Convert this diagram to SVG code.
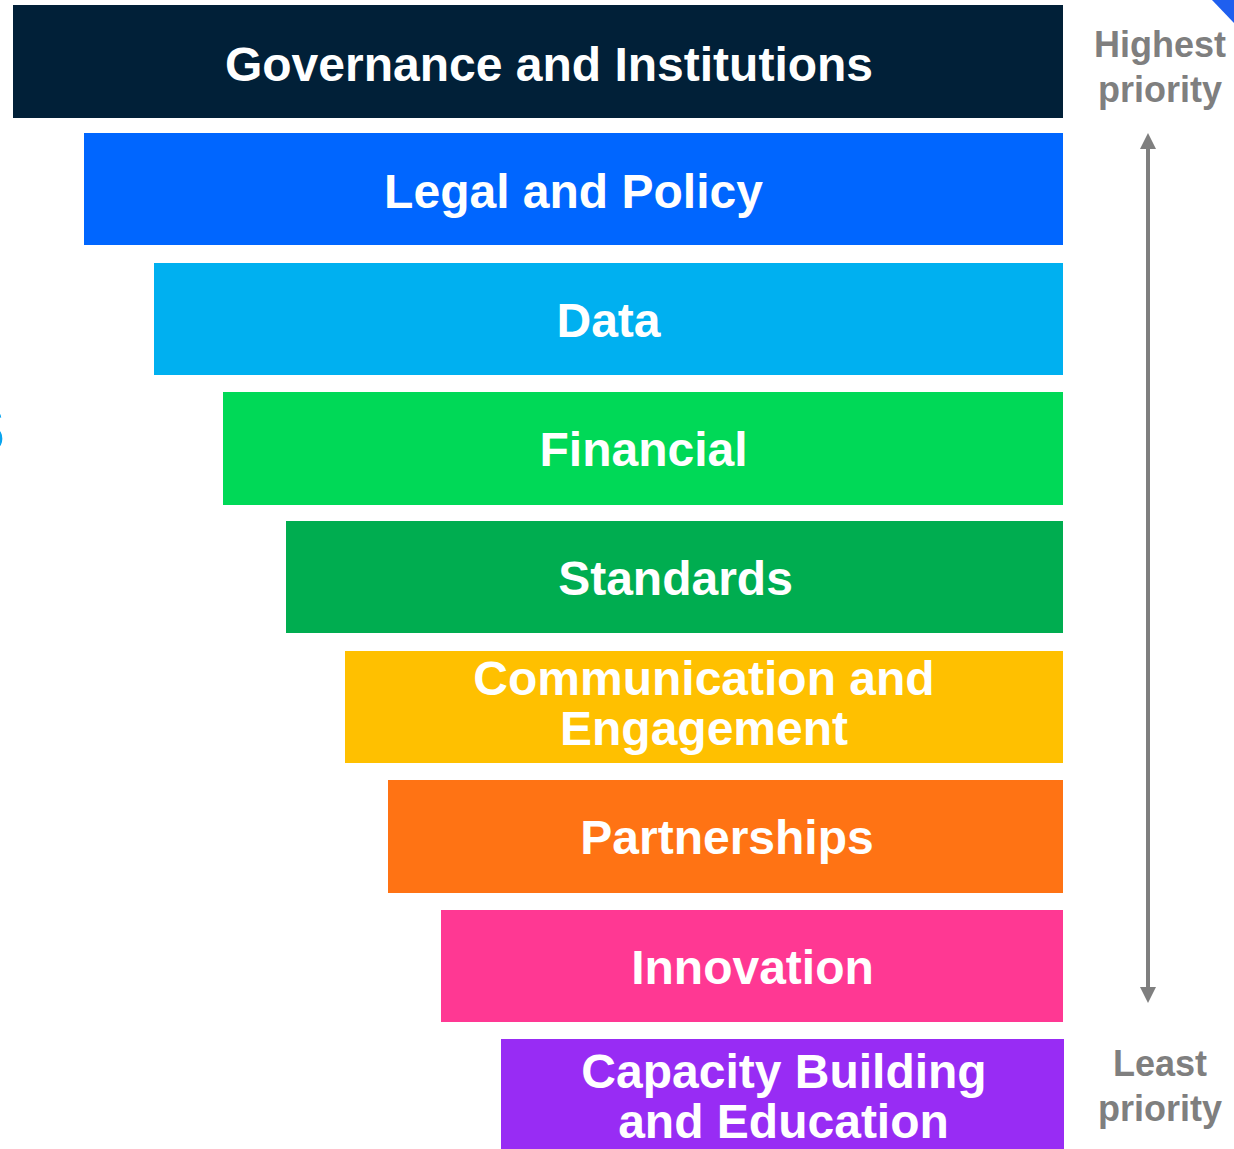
<svg xmlns="http://www.w3.org/2000/svg" width="1234" height="1149" viewBox="0 0 1234 1149">
<style>
  .lbl { font-family: "Liberation Sans", Arial, sans-serif; font-weight: bold; font-size: 48px; fill: #ffffff; text-anchor: middle; }
  .side { font-family: "Liberation Sans", Arial, sans-serif; font-weight: bold; font-size: 36px; fill: #7f7f7f; text-anchor: middle; }
  .conn { stroke: #7f7f7f; stroke-width: 4; fill: none; }
</style>
<defs>
  <marker id="head" viewBox="0 0 16 16" refX="0" refY="8" markerWidth="16" markerHeight="16" markerUnits="userSpaceOnUse" orient="auto-start-reverse">
    <path d="M0,0 L16,8 L0,16 Z" fill="#7f7f7f"/>
  </marker>
</defs>
<rect width="1234" height="1149" fill="#ffffff"/>
<polygon points="1212,0 1234,0 1234,23" fill="#1f5fef"/>
<text x="6" y="452" font-family="Liberation Sans, Arial, sans-serif" font-weight="bold" font-size="88" fill="#08a4ef" text-anchor="end">s</text>

<g id="governance">
  <rect x="13" y="5" width="1050" height="113" fill="#012038"/>
  <text class="lbl" x="549" y="81">Governance and Institutions</text>
</g>
<g id="legal">
  <rect x="84" y="133" width="979" height="112" fill="#0066ff"/>
  <text class="lbl" x="573.5" y="208">Legal and Policy</text>
</g>
<g id="data">
  <rect x="154" y="263" width="909" height="112" fill="#00b0f0"/>
  <text class="lbl" x="608.5" y="337">Data</text>
</g>
<g id="financial">
  <rect x="223" y="392" width="840" height="113" fill="#00d957"/>
  <text class="lbl" x="643.5" y="466">Financial</text>
</g>
<g id="standards">
  <rect x="286" y="521" width="777" height="112" fill="#00ad50"/>
  <text class="lbl" x="675.5" y="595">Standards</text>
</g>
<g id="communication">
  <rect x="345" y="651" width="718" height="112" fill="#ffc000"/>
  <text class="lbl" x="704" y="695">Communication and</text>
  <text class="lbl" x="704" y="745">Engagement</text>
</g>
<g id="partnerships">
  <rect x="388" y="780" width="675" height="113" fill="#ff7314"/>
  <text class="lbl" x="727" y="854">Partnerships</text>
</g>
<g id="innovation">
  <rect x="441" y="910" width="622" height="112" fill="#ff3893"/>
  <text class="lbl" x="752.5" y="984">Innovation</text>
</g>
<g id="capacity">
  <rect x="501" y="1039" width="563" height="110" fill="#982cf4"/>
  <text class="lbl" x="784" y="1088">Capacity Building</text>
  <text class="lbl" x="783.5" y="1138">and Education</text>
</g>

<g id="highest">
  <text class="side" x="1160" y="57">Highest</text>
  <text class="side" x="1160" y="102">priority</text>
</g>
<g id="least">
  <text class="side" x="1160" y="1076">Least</text>
  <text class="side" x="1160" y="1121">priority</text>
</g>

<g id="connectors">
  <line class="conn" x1="1148" y1="149" x2="1148" y2="987" marker-start="url(#head)" marker-end="url(#head)"/>
</g>
</svg>
